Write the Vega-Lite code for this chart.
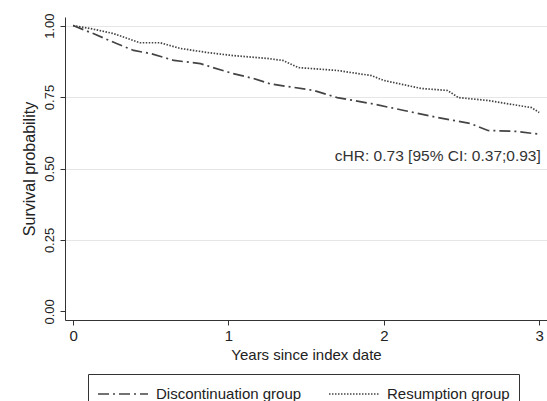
{
  "$schema": "https://vega.github.io/schema/vega-lite/v6.json",
  "autosize": {"type": "none"},
  "width": 482,
  "height": 303,
  "padding": {"left": 65, "top": 17, "right": 0, "bottom": 81},
  "background": "white",
  "config": {
    "font": "Liberation Sans",
    "view": {"stroke": null},
    "axis": {"labelFont": "Liberation Sans", "titleFont": "Liberation Sans", "labelColor": "#222", "titleColor": "#222", "domainColor": "#333", "tickColor": "#333", "titleFontWeight": "normal"}
  },
  "layer": [
    {
      "data": {"values": [
        {"t": 0, "s": 1.0, "g": "Discontinuation group"},
        {"t": 0.13, "s": 0.972, "g": "Discontinuation group"},
        {"t": 0.28, "s": 0.937, "g": "Discontinuation group"},
        {"t": 0.39, "s": 0.913, "g": "Discontinuation group"},
        {"t": 0.5, "s": 0.902, "g": "Discontinuation group"},
        {"t": 0.65, "s": 0.878, "g": "Discontinuation group"},
        {"t": 0.82, "s": 0.867, "g": "Discontinuation group"},
        {"t": 0.9, "s": 0.853, "g": "Discontinuation group"},
        {"t": 1.03, "s": 0.832, "g": "Discontinuation group"},
        {"t": 1.16, "s": 0.815, "g": "Discontinuation group"},
        {"t": 1.27, "s": 0.796, "g": "Discontinuation group"},
        {"t": 1.55, "s": 0.773, "g": "Discontinuation group"},
        {"t": 1.7, "s": 0.748, "g": "Discontinuation group"},
        {"t": 1.92, "s": 0.727, "g": "Discontinuation group"},
        {"t": 2.13, "s": 0.703, "g": "Discontinuation group"},
        {"t": 2.35, "s": 0.678, "g": "Discontinuation group"},
        {"t": 2.56, "s": 0.657, "g": "Discontinuation group"},
        {"t": 2.67, "s": 0.633, "g": "Discontinuation group"},
        {"t": 2.85, "s": 0.63, "g": "Discontinuation group"},
        {"t": 3.0, "s": 0.62, "g": "Discontinuation group"},
        {"t": 0, "s": 1.0, "g": "Resumption group"},
        {"t": 0.11, "s": 0.99, "g": "Resumption group"},
        {"t": 0.26, "s": 0.972, "g": "Resumption group"},
        {"t": 0.43, "s": 0.94, "g": "Resumption group"},
        {"t": 0.56, "s": 0.94, "g": "Resumption group"},
        {"t": 0.69, "s": 0.92, "g": "Resumption group"},
        {"t": 0.86, "s": 0.906, "g": "Resumption group"},
        {"t": 1.03, "s": 0.895, "g": "Resumption group"},
        {"t": 1.25, "s": 0.885, "g": "Resumption group"},
        {"t": 1.35, "s": 0.878, "g": "Resumption group"},
        {"t": 1.45, "s": 0.853, "g": "Resumption group"},
        {"t": 1.7, "s": 0.843, "g": "Resumption group"},
        {"t": 1.92, "s": 0.825, "g": "Resumption group"},
        {"t": 2.0, "s": 0.808, "g": "Resumption group"},
        {"t": 2.24, "s": 0.78, "g": "Resumption group"},
        {"t": 2.41, "s": 0.773, "g": "Resumption group"},
        {"t": 2.48, "s": 0.748, "g": "Resumption group"},
        {"t": 2.67, "s": 0.738, "g": "Resumption group"},
        {"t": 2.95, "s": 0.713, "g": "Resumption group"},
        {"t": 3.0, "s": 0.696, "g": "Resumption group"}
      ]},
      "mark": {"type": "line", "color": "#444", "strokeWidth": 1.7},
      "encoding": {
        "x": {"field": "t", "type": "quantitative", "scale": {"domain": [-0.052, 3.05], "nice": false, "zero": false},
          "axis": {"values": [0, 1, 2, 3], "format": "d", "title": "Years since index date", "grid": false, "tickSize": 5, "labelPadding": 3, "titlePadding": 4, "labelFontSize": 15, "titleFontSize": 15}},
        "y": {"field": "s", "type": "quantitative", "scale": {"domain": [-0.03, 1.03], "nice": false, "zero": false},
          "axis": {"values": [0, 0.25, 0.5, 0.75, 1], "format": ".2f", "title": "Survival probability", "labelAngle": -90, "labelAlign": "center", "labelBaseline": "bottom", "labelPadding": 4, "tickSize": 5, "titlePadding": 6, "labelFontSize": 13, "titleFontSize": 16,
            "grid": true, "gridColor": "#e6e6e6", "gridWidth": 1, "gridOpacity": {"condition": {"test": "datum.value === 0", "value": 0}, "value": 1}}},
        "strokeDash": {"field": "g", "type": "nominal",
          "scale": {"domain": ["Discontinuation group", "Resumption group"], "range": [[11, 4, 2, 4], [1.5, 1.5]]},
          "legend": {"title": null, "orient": "none", "legendX": 23, "legendY": 357, "direction": "horizontal", "strokeColor": "#333", "padding": 9, "symbolType": "M-2.5,0H2.5", "symbolSize": 400, "symbolOffset": 15, "symbolStrokeWidth": 1.3, "symbolStrokeColor": "#444", "symbolFillColor": "transparent", "labelFontSize": 15, "labelFont": "Liberation Sans", "labelColor": "#222", "columnPadding": 24, "labelOffset": 22}}
      }
    },
    {
      "data": {"values": [{"t": 3.01, "s": 0.545, "label": "cHR: 0.73 [95% CI: 0.37;0.93]"}]},
      "mark": {"type": "text", "align": "right", "baseline": "middle", "fontSize": 15.5, "color": "#333", "font": "Liberation Sans"},
      "encoding": {
        "x": {"field": "t", "type": "quantitative"},
        "y": {"field": "s", "type": "quantitative"},
        "text": {"field": "label"}
      }
    }
  ]
}
